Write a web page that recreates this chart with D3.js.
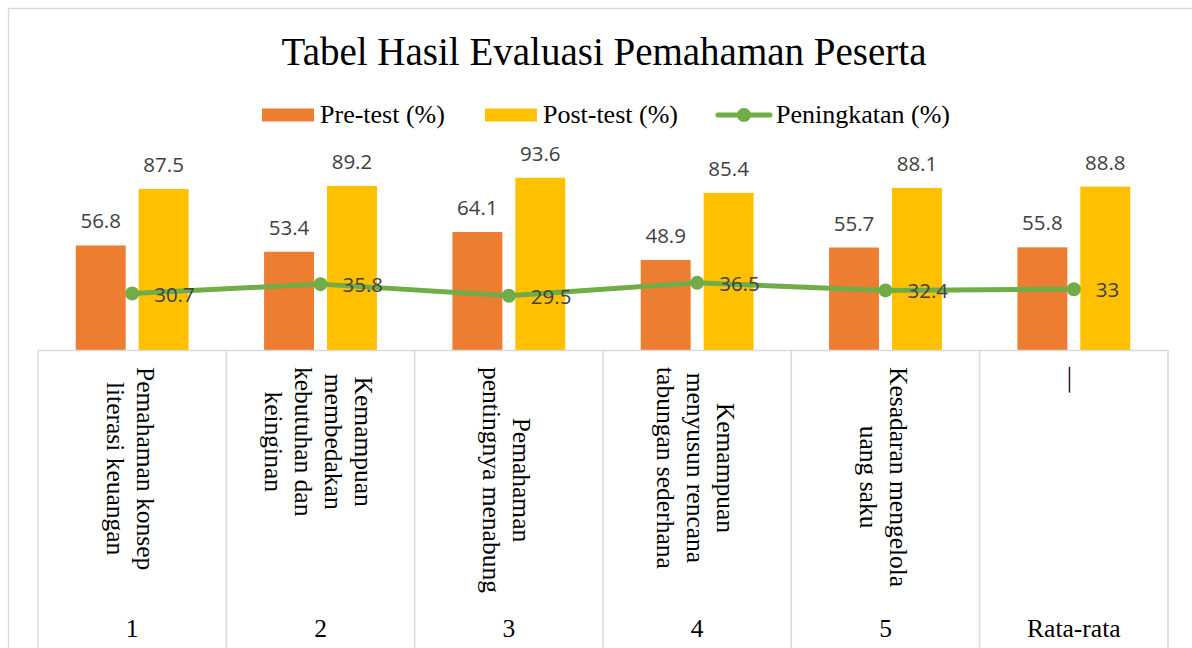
<!DOCTYPE html>
<html>
<head>
<meta charset="utf-8">
<script src="https://cdn.jsdelivr.net/npm/d3@7"></script>
<style>
  body { margin: 0; background: #fff; }
  svg { display: block; }
</style>
</head>
<body>
<div id="chart"></div>
<script>
// chart values
const categories = ["1", "2", "3", "4", "5", "Rata-rata"];
const descriptions = [
  ["Pemahaman konsep", "literasi keuangan"],
  ["Kemampuan", "membedakan", "kebutuhan dan", "keinginan"],
  ["Pemahaman", "pentingnya menabung"],
  ["Kemampuan", "menyusun rencana", "tabungan sederhana"],
  ["Kesadaran mengelola", "uang saku"],
  ["—"]
];
const preTest = [56.8, 53.4, 64.1, 48.9, 55.7, 55.8];
const postTest = [87.5, 89.2, 93.6, 85.4, 88.1, 88.8];
const increase = [30.7, 35.8, 29.5, 36.5, 32.4, 33];
const seriesNames = ["Pre-test (%)", "Post-test (%)", "Peningkatan (%)"];

const width = 1192, height = 648;
const margin = {left: 38, right: 24, top: 166, axis: 350};
const colors = {pre: "#ED7D31", post: "#FFC000", line: "#70AD47"};
const serif = "'Liberation Serif', 'Times New Roman', serif";
const sans = "'Open Sans', 'Noto Sans', sans-serif";

const svg = d3.select("#chart")
  .append("svg")
  .attr("width", width)
  .attr("height", height);

// chart frame
svg.append("rect")
  .attr("x", 8.5).attr("y", 8.5)
  .attr("width", 1300).attr("height", 800)
  .attr("fill", "#fff")
  .attr("stroke", "#d9d9d9")
  .attr("stroke-width", 1.3);

// title
svg.append("text")
  .attr("x", 604).attr("y", 65)
  .attr("text-anchor", "middle")
  .attr("font-family", serif)
  .attr("font-size", 39)
  .attr("fill", "#000")
  .text("Tabel Hasil Evaluasi Pemahaman Peserta");

// scales
const x0 = d3.scaleBand()
  .domain(categories)
  .range([margin.left, width - margin.right])
  .padding(0);

const x1 = d3.scaleBand()
  .domain(["pre", "post"])
  .range([0, x0.bandwidth()])
  .paddingInner(0.206)
  .paddingOuter(0.6);

const y = d3.scaleLinear()
  .domain([0, 100])
  .range([margin.axis, margin.top]);

const rows = categories.map((c, i) => ({
  cat: c, desc: descriptions[i], pre: preTest[i], post: postTest[i], inc: increase[i]
}));

// bars
const groups = svg.append("g").selectAll("g")
  .data(rows)
  .enter()
  .append("g")
  .attr("transform", d => `translate(${x0(d.cat)},0)`);

["pre", "post"].forEach(key => {
  groups.append("rect")
    .attr("x", x1(key))
    .attr("y", d => y(d[key]))
    .attr("width", x1.bandwidth())
    .attr("height", d => y(0) - y(d[key]))
    .attr("fill", colors[key]);

  groups.append("text")
    .attr("x", x1(key) + x1.bandwidth() / 2)
    .attr("y", d => y(d[key]) - 17)
    .attr("text-anchor", "middle")
    .attr("font-family", sans)
    .attr("font-size", 20.5)
    .attr("fill", "#404040")
    .text(d => d[key]);
});

// axis line and category separators
svg.append("line")
  .attr("x1", margin.left).attr("x2", width - margin.right)
  .attr("y1", y(0) + 0.5).attr("y2", y(0) + 0.5)
  .attr("stroke", "#d9d9d9").attr("stroke-width", 1.5);

const edges = categories.map(c => x0(c)).concat([x0.range()[1]]);
svg.append("g").selectAll("line")
  .data(edges)
  .enter()
  .append("line")
  .attr("x1", d => d).attr("x2", d => d)
  .attr("y1", y(0)).attr("y2", height)
  .attr("stroke", "#d9d9d9").attr("stroke-width", 1.5);

// rotated inner labels
const lineGap = 30;
const labelTop = 367;
rows.forEach(d => {
  const cx = x0(d.cat) + x0.bandwidth() / 2 + (d.desc.length - 1) * lineGap / 2 - 2;
  const t = svg.append("text")
    .attr("font-family", serif)
    .attr("font-size", 25.5)
    .attr("fill", "#000")
    .attr("text-anchor", "middle");
  const spans = d.desc.map((s, i) => t.append("tspan").attr("x", 0).attr("y", i * lineGap).attr("dy", "0.33em").text(s));
  const maxLen = d3.max(spans, s => s.node().getComputedTextLength());
  t.attr("transform", `translate(${cx},${labelTop + maxLen / 2}) rotate(90)`);
});

// outer labels
svg.append("g").selectAll("text")
  .data(rows)
  .enter()
  .append("text")
  .attr("x", d => x0(d.cat) + x0.bandwidth() / 2)
  .attr("y", 637)
  .attr("text-anchor", "middle")
  .attr("font-family", serif)
  .attr("font-size", 25.5)
  .attr("fill", "#000")
  .text(d => d.cat);

// line series
const cxOf = d => x0(d.cat) + x0.bandwidth() / 2;
svg.append("path")
  .datum(rows)
  .attr("fill", "none")
  .attr("stroke", colors.line)
  .attr("stroke-width", 5)
  .attr("stroke-linejoin", "round")
  .attr("d", d3.line().x(cxOf).y(d => y(d.inc)));

svg.append("g").selectAll("circle")
  .data(rows)
  .enter()
  .append("circle")
  .attr("cx", cxOf)
  .attr("cy", d => y(d.inc))
  .attr("r", 7)
  .attr("fill", colors.line);

svg.append("g").selectAll("text")
  .data(rows)
  .enter()
  .append("text")
  .attr("x", d => cxOf(d) + 22)
  .attr("y", d => y(d.inc) + 8)
  .attr("font-family", sans)
  .attr("font-size", 20.5)
  .attr("fill", "#404040")
  .text(d => d.inc);

// legend
const legend = svg.append("g");
const swW = 52, swGap = 6, itemGap = 40, legendY = 115;
let lx = 0;
seriesNames.forEach((name, i) => {
  const g = legend.append("g").attr("transform", `translate(${lx},0)`);
  if (i < 2) {
    g.append("rect")
      .attr("x", 0).attr("y", legendY - 6.5)
      .attr("width", swW).attr("height", 13)
      .attr("fill", i === 0 ? colors.pre : colors.post);
  } else {
    g.append("line")
      .attr("x1", 0).attr("x2", swW)
      .attr("y1", legendY).attr("y2", legendY)
      .attr("stroke", colors.line).attr("stroke-width", 5)
      .attr("stroke-linecap", "round");
    g.append("circle")
      .attr("cx", swW / 2).attr("cy", legendY).attr("r", 7)
      .attr("fill", colors.line);
  }
  const t = g.append("text")
    .attr("x", swW + swGap)
    .attr("y", legendY + 8)
    .attr("font-family", serif)
    .attr("font-size", 26)
    .attr("fill", "#000")
    .text(name);
  lx += swW + swGap + t.node().getComputedTextLength() + itemGap;
});
const legendW = lx - itemGap;
legend.attr("transform", `translate(${606 - legendW / 2},0)`);
</script>
</body>
</html>
